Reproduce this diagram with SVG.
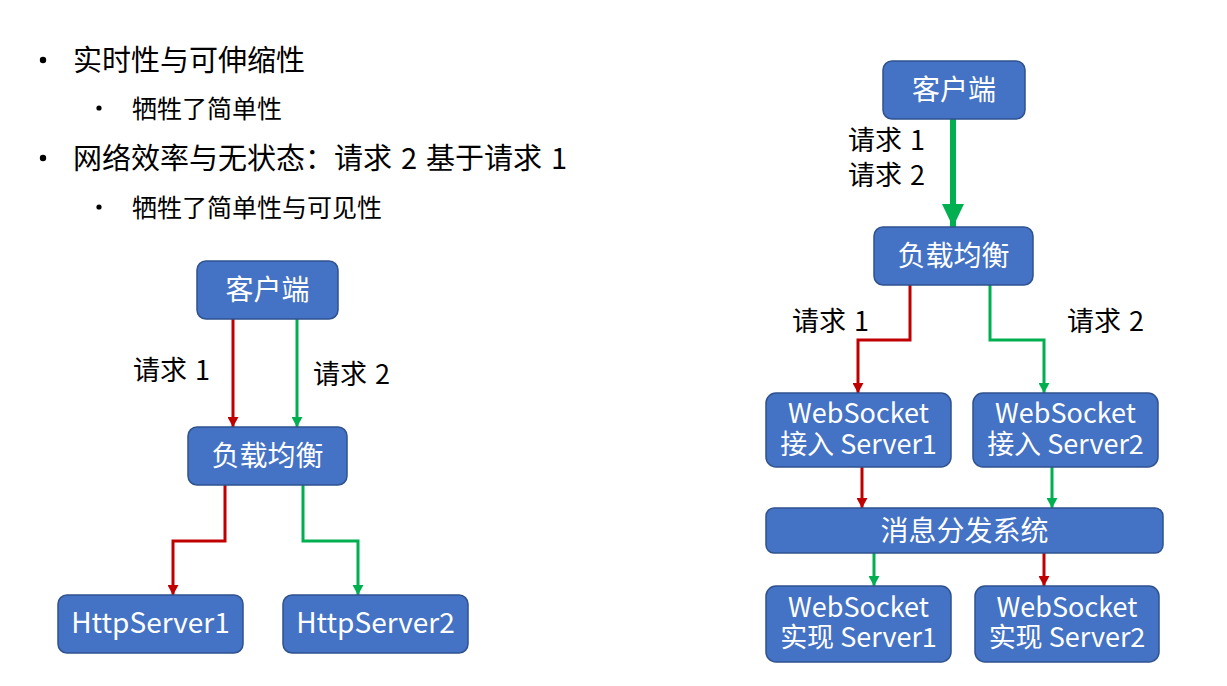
<svg xmlns="http://www.w3.org/2000/svg" width="1227" height="686" viewBox="0 0 1227 686">
  <style>
    text { font-family: "Noto Sans CJK SC", "Noto Sans", sans-serif; }
    .box { fill: #4472C4; stroke: #2F528F; stroke-width: 1.5; }
    .bt { fill: #FFFFFF; font-size: 28px; text-anchor: middle; }
    .bt2 { fill: #FFFFFF; font-size: 27px; text-anchor: middle; }
    .lbl { fill: #000000; font-size: 27px; word-spacing: 2px; }
    .h1 { fill: #000000; font-size: 29px; word-spacing: 2.5px; }
    .h2 { fill: #000000; font-size: 25px; }
    .red { fill: none; stroke: #C00000; stroke-width: 3; marker-end: url(#ar); }
    .grn { fill: none; stroke: #00B050; stroke-width: 3; marker-end: url(#ag); }
  </style>
  <defs>
    <marker id="ar" viewBox="0 0 10 11" refX="10" refY="5.5" markerWidth="10" markerHeight="11" markerUnits="userSpaceOnUse" orient="auto">
      <path d="M0,0 L10,5.5 L0,11 z" fill="#C00000"/>
    </marker>
    <marker id="ag" viewBox="0 0 10 11" refX="10" refY="5.5" markerWidth="10" markerHeight="11" markerUnits="userSpaceOnUse" orient="auto">
      <path d="M0,0 L10,5.5 L0,11 z" fill="#00B050"/>
    </marker>
    <marker id="agBig" viewBox="0 0 23 22" refX="23" refY="11" markerWidth="23" markerHeight="22" markerUnits="userSpaceOnUse" orient="auto">
      <path d="M0,0 L23,11 L0,22 z" fill="#00B050"/>
    </marker>
  </defs>

  <g id="bullets">
    <circle cx="43" cy="60" r="3.2" fill="#000"/>
    <text class="h1" x="73" y="71">实时性与可伸缩性</text>
    <circle cx="99" cy="108" r="2.6" fill="#000"/>
    <text class="h2" x="132" y="118">牺牲了简单性</text>
    <circle cx="43" cy="158" r="3.2" fill="#000"/>
    <text class="h1" x="73" y="169">网络效率与无状态：请求 2 基于请求 1</text>
    <circle cx="99" cy="207" r="2.6" fill="#000"/>
    <text class="h2" x="132" y="217">牺牲了简单性与可见性</text>
  </g>

  <g id="connectors">
    <path class="red" d="M233,319 V427"/>
    <path class="grn" d="M297,319 V427"/>
    <path class="red" d="M225,485 V541 H173 V595"/>
    <path class="grn" d="M303,485 V541 H358 V595"/>

    <path d="M953,119 V227" fill="none" stroke="#00B050" stroke-width="6" marker-end="url(#agBig)"/>
    <path class="red" d="M910,285 V340 H858 V393"/>
    <path class="grn" d="M990,285 V340 H1044 V393"/>
    <path class="red" d="M862,467 V508"/>
    <path class="grn" d="M1052,467 V508"/>
    <path class="grn" d="M874,553 V586"/>
    <path class="red" d="M1044,553 V586"/>
  </g>

  <g id="labels">
    <text class="lbl" x="133" y="380">请求 1</text>
    <text class="lbl" x="313" y="384">请求 2</text>
    <text class="lbl" x="848" y="150">请求 1</text>
    <text class="lbl" x="848" y="185">请求 2</text>
    <text class="lbl" x="792" y="331">请求 1</text>
    <text class="lbl" x="1067" y="331">请求 2</text>
  </g>

  <g id="l-client">
    <rect class="box" x="197" y="261" width="141" height="58" rx="9"/>
    <text class="bt" x="267.5" y="300">客户端</text>
  </g>
  <g id="l-lb">
    <rect class="box" x="188" y="427" width="159" height="58" rx="9"/>
    <text class="bt" x="267.5" y="466">负载均衡</text>
  </g>
  <g id="l-http1">
    <rect class="box" x="58" y="595" width="185" height="58" rx="9"/>
    <text class="bt" x="150.5" y="633">HttpServer1</text>
  </g>
  <g id="l-http2">
    <rect class="box" x="283" y="595" width="185" height="58" rx="9"/>
    <text class="bt" x="375.5" y="633">HttpServer2</text>
  </g>

  <g id="r-client">
    <rect class="box" x="883" y="61" width="142" height="58" rx="9"/>
    <text class="bt" x="954" y="100">客户端</text>
  </g>
  <g id="r-lb">
    <rect class="box" x="874" y="227" width="159" height="58" rx="9"/>
    <text class="bt" x="953.5" y="266">负载均衡</text>
  </g>
  <g id="r-ws-in1">
    <rect class="box" x="766" y="393" width="185" height="74" rx="10"/>
    <text class="bt2" x="858.5" y="423">WebSocket</text>
    <text class="bt2" x="858.5" y="454">接入 Server1</text>
  </g>
  <g id="r-ws-in2">
    <rect class="box" x="973" y="393" width="185" height="74" rx="10"/>
    <text class="bt2" x="1065.5" y="423">WebSocket</text>
    <text class="bt2" x="1065.5" y="454">接入 Server2</text>
  </g>
  <g id="r-msg">
    <rect class="box" x="766" y="508" width="397" height="45" rx="8"/>
    <text class="bt" x="964.5" y="541">消息分发系统</text>
  </g>
  <g id="r-ws-impl1">
    <rect class="box" x="766" y="586" width="185" height="76" rx="10"/>
    <text class="bt2" x="858.5" y="617">WebSocket</text>
    <text class="bt2" x="858.5" y="647">实现 Server1</text>
  </g>
  <g id="r-ws-impl2">
    <rect class="box" x="975" y="586" width="184" height="76" rx="10"/>
    <text class="bt2" x="1067" y="617">WebSocket</text>
    <text class="bt2" x="1067" y="647">实现 Server2</text>
  </g>
</svg>
